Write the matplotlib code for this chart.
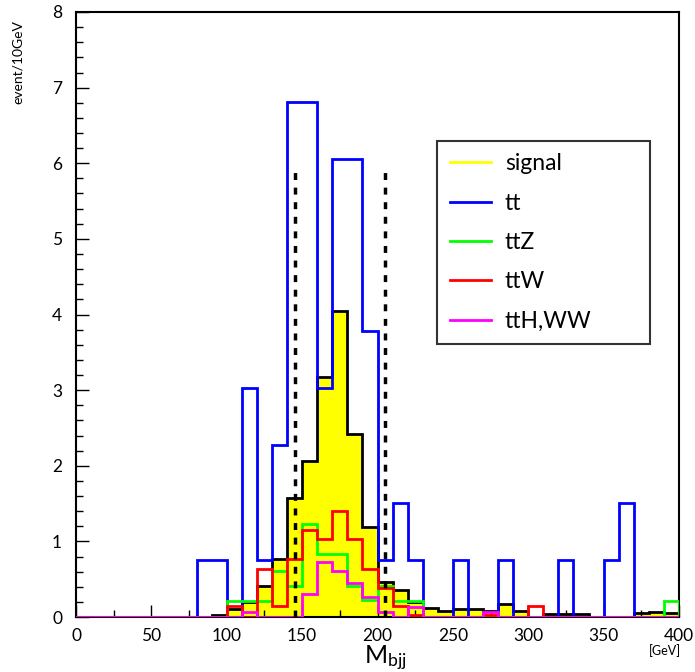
import numpy as np
import matplotlib
matplotlib.use('Agg')
import matplotlib.pyplot as plt
from matplotlib.lines import Line2D
from matplotlib.ticker import MultipleLocator

plt.rcParams['font.family'] = ['Lato', 'DejaVu Sans']

# 10 GeV bins from 0 to 400
edges = np.arange(0, 410, 10)

# event / 10 GeV (bins 0-10, 10-20, ... 390-400)
signal = [0, 0, 0, 0, 0, 0, 0, 0, 0, 0.03,
          0.11, 0.20, 0.41, 0.77, 1.58, 2.06, 3.17, 4.05, 2.42, 1.19,
          0.46, 0.36, 0.20, 0.12, 0.08, 0.10, 0.10, 0.08, 0.17, 0.08,
          0, 0.04, 0.04, 0.04, 0, 0, 0, 0.05, 0.06, 0.05]
tt = [0, 0, 0, 0, 0, 0, 0, 0, 0.76, 0.76,
      0, 3.03, 0.76, 2.27, 6.81, 6.81, 3.03, 6.05, 6.05, 3.78,
      0.76, 1.51, 0.76, 0, 0, 0.76, 0, 0, 0.76, 0,
      0, 0, 0.76, 0, 0, 0.76, 1.51, 0, 0, 0]
ttZ = [0, 0, 0, 0, 0, 0, 0, 0, 0, 0,
       0.21, 0.21, 0.21, 0.61, 0.41, 1.23, 0.83, 0.83, 0.41, 0.22,
       0.41, 0.21, 0.21, 0, 0, 0, 0, 0, 0, 0,
       0, 0, 0, 0, 0, 0, 0, 0, 0, 0.21]
ttW = [0, 0, 0, 0, 0, 0, 0, 0, 0, 0,
       0.14, 0, 0.64, 0.14, 0.77, 1.15, 1.03, 1.40, 1.03, 0.64,
       0.39, 0.14, 0.02, 0, 0, 0, 0, 0.03, 0, 0,
       0.14, 0, 0, 0, 0, 0, 0, 0, 0, 0]
ttH = [0, 0, 0, 0, 0, 0, 0, 0, 0, 0,
       0, 0.06, 0, 0, 0, 0.31, 0.73, 0.61, 0.45, 0.26,
       0.06, 0, 0.13, 0, 0, 0, 0, 0.07, 0, 0,
       0, 0, 0, 0, 0, 0, 0, 0, 0, 0]

cuts = [145, 205]
cut_top = 5.93

fig = plt.figure(figsize=(6.95, 6.72), dpi=100)
ax = fig.add_axes([76/695., 55/672., 603/695., 605/672.])

lw = 2.0
ax.stairs(signal, edges, fill=True, color='#ffff00', zorder=1)
ax.stairs(signal, edges, color='black', lw=lw, zorder=2)
ax.stairs(tt, edges, color='#0000ff', lw=lw, zorder=3)
ax.stairs(ttZ, edges, color='#00ff00', lw=lw, zorder=4)
ax.stairs(ttW, edges, color='#ff0000', lw=lw, zorder=5)
ax.stairs(ttH, edges, color='#ff00ff', lw=lw, zorder=6)
for c in cuts:
    ax.plot([c, c], [0, cut_top], color='black', lw=2.5, ls=(0, (2, 2.2)), zorder=7)

ax.set_xlim(0, 400)
ax.set_ylim(0, 8)
ax.xaxis.set_major_locator(MultipleLocator(50))
ax.xaxis.set_minor_locator(MultipleLocator(25))
ax.yaxis.set_major_locator(MultipleLocator(1))
ax.yaxis.set_minor_locator(MultipleLocator(0.2))
ax.tick_params(which='both', direction='in', top=False, right=False, labelsize=12.5)
ax.tick_params(which='major', length=9, width=1)
ax.tick_params(which='minor', length=5, width=1)
ax.tick_params(axis='x', pad=8)
ax.tick_params(axis='y', pad=10)
for s in ax.spines.values():
    s.set_linewidth(1.5)

fig.text(18/695., 1 - 62/672., 'event/10GeV', rotation=90, ha='center', va='center', fontsize=10)
fig.text(385/695., 1 - 658/672., r'$\mathregular{M_{bjj}}$', ha='center', va='center', fontsize=18)
fig.text(665/695., 1 - 651/672., '[GeV]', ha='center', va='center', fontsize=9)

names = ['signal', 'tt', 'ttZ', 'ttW', 'ttH,WW']
colors = ['#ffff00', '#0000ff', '#00ff00', '#ff0000', '#ff00ff']
handles = [Line2D([], [], color=c, lw=2) for c in colors]
leg = ax.legend(handles, names, loc='upper left', bbox_to_anchor=(0.599, 0.787, 0.353, 0.0),
                mode='expand', fontsize=16.5, frameon=True, fancybox=False, borderpad=0.55,
                handlelength=1.8, handletextpad=0.6, labelspacing=0.8, borderaxespad=0)
leg.get_frame().set_edgecolor('black')
leg.get_frame().set_linewidth(1.5)

fig.savefig('out.png', dpi=100)
